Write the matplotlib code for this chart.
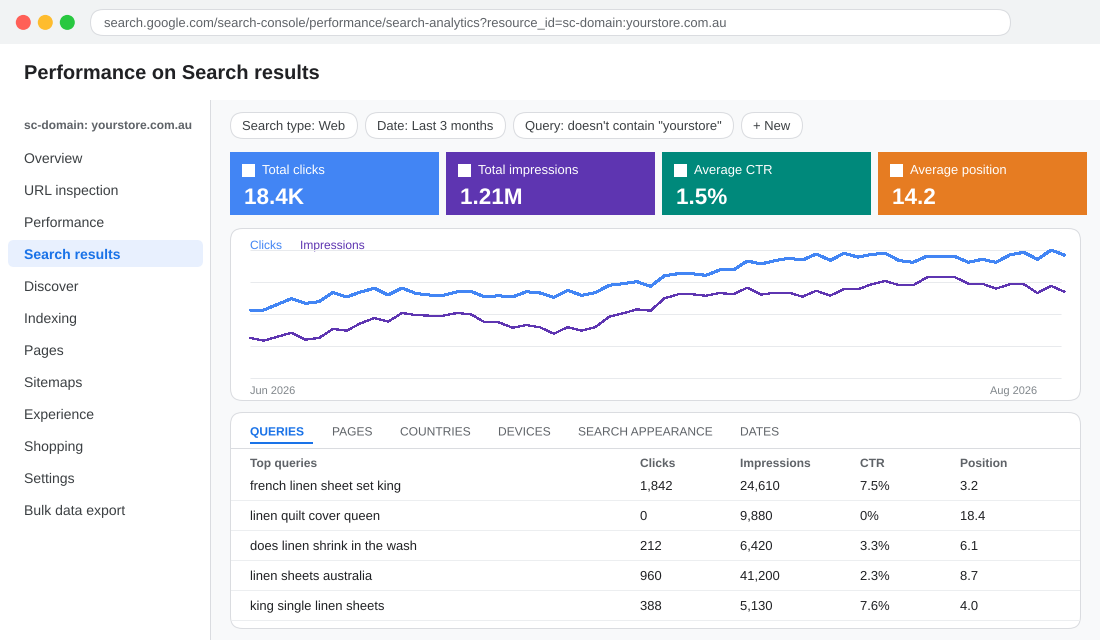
import matplotlib
matplotlib.use("Agg")
import matplotlib.pyplot as plt
import matplotlib.patheffects as pe
from matplotlib.patches import FancyBboxPatch, Rectangle, Circle

plt.rcParams['font.family'] = ['Liberation Sans', 'DejaVu Sans']
plt.rcParams['text.hinting'] = 'none'

URL = "search.google.com/search-console/performance/search-analytics?resource_id=sc-domain:yourstore.com.au"
TITLE = "Performance on Search results"
DOMAIN = "sc-domain: yourstore.com.au"
NAV = ["Overview", "URL inspection", "Performance", "Search results", "Discover", "Indexing",
       "Pages", "Sitemaps", "Experience", "Shopping", "Settings", "Bulk data export"]
FILTERS = ['Search type: Web', 'Date: Last 3 months', 'Query: doesn\'t contain "yourstore"', '+ New']
KPI_LABELS = ["Total clicks", "Total impressions", "Average CTR", "Average position"]
KPI_VALUES = ["18.4K", "1.21M", "1.5%", "14.2"]
KPI_COLORS = ["#4285f4", "#5e35b1", "#00897b", "#e67c22"]
TABS = ["QUERIES", "PAGES", "COUNTRIES", "DEVICES", "SEARCH APPEARANCE", "DATES"]
COLUMNS = ["Top queries", "Clicks", "Impressions", "CTR", "Position"]
QUERIES = ["french linen sheet set king", "linen quilt cover queen", "does linen shrink in the wash",
           "linen sheets australia", "king single linen sheets"]
CLICKS = ["1,842", "0", "212", "960", "388"]
IMPRESSIONS = ["24,610", "9,880", "6,420", "41,200", "5,130"]
CTR = ["7.5%", "0%", "3.3%", "2.3%", "7.6%"]
POSITION = ["3.2", "18.4", "6.1", "8.7", "4.0"]

clicks_series = [52.9, 53.1, 57.6, 62.0, 58.3, 59.6, 66.9, 63.3, 67.2, 70.1,
                 64.8, 70.3, 66.1, 64.8, 64.6, 67.4, 67.7, 63.3, 64.3, 63.3,
                 67.4, 66.4, 63.0, 68.5, 64.6, 66.7, 72.4, 73.7, 75.3, 71.6,
                 79.9, 81.5, 81.5, 80.2, 84.4, 84.4, 91.4, 89.1, 91.7, 93.5,
                 92.2, 96.9, 91.9, 97.4, 94.5, 96.6, 97.4, 91.7, 90.4, 95.1,
                 95.1, 95.1, 90.4, 92.7, 90.4, 96.1, 98.2, 92.7, 100.0, 95.8]
impressions_series = [31.3, 29.2, 32.3, 35.4, 29.9, 31.3, 38.3, 37.0, 42.7, 46.9,
                      44.0, 50.8, 49.2, 48.7, 48.7, 50.8, 49.7, 43.5, 43.5, 39.3,
                      41.4, 39.6, 34.6, 39.8, 37.0, 39.8, 47.9, 50.5, 53.6, 52.6,
                      62.2, 65.4, 65.4, 64.3, 66.4, 65.4, 70.6, 65.1, 66.7, 66.7,
                      63.5, 68.2, 64.3, 69.5, 69.3, 73.2, 75.8, 72.4, 72.4, 78.6,
                      78.9, 78.9, 73.7, 73.7, 69.8, 73.2, 73.4, 66.4, 71.9, 67.2]
y_ticks = [0, 25, 50, 75, 100]

W, H = 1100, 640
fig = plt.figure(figsize=(W / 100, H / 100), dpi=100, facecolor="white")
bg = fig.add_axes([0, 0, 1, 1])
bg.set_xlim(0, W); bg.set_ylim(H, 0); bg.axis("off")
PX = 0.72

def rect(x, y, w, h, fc, ec="none", lw=0, z=1):
    bg.add_patch(Rectangle((x, y), w, h, fc=fc, ec=ec, lw=lw, zorder=z))

def rrect(x, y, w, h, r, fc, ec="none", lw=0.72, z=1):
    bg.add_patch(FancyBboxPatch((x, y), w, h, boxstyle=f"round,pad=0,rounding_size={r}",
                                fc=fc, ec=ec, lw=lw, zorder=z, mutation_aspect=1))

def txt(x, y, s, size, color, weight="normal", ha="left"):
    t = bg.text(x, y, s, fontsize=size * PX, color=color, fontweight=weight, ha=ha, va="baseline", zorder=5)
    t.set_path_effects([pe.Normal()])

# browser bar
rect(0, 0, W, 44, "#f1f3f4")
for cx, c in zip([23, 45, 67], ["#ff5f57", "#febc2e", "#28c840"]):
    bg.add_patch(Circle((cx + 0.3, 22.4), 7.5, fc=c, ec="none", zorder=2))
rrect(90.5, 9.5, 920, 26, 13, "white", "#dadce0", z=2)
txt(104, 27, URL, 13, "#5f6368")
txt(24, 79, TITLE, 20, "#202124", "bold")

# content pane + sidebar
rect(211, 100, W - 211, H - 100, "#f8f9fa")
rect(210, 100, 1, H - 100, "#dadce0", z=2)
txt(24, 129, DOMAIN, 12, "#5f6368", "bold")
rrect(8, 240, 195, 27, 6, "#e8f0fe")
for i, n in enumerate(NAV):
    active = n == "Search results"
    txt(24, 163 + 32 * i, n, 14, "#1a73e8" if active else "#3c4043", "bold" if active else "normal")

# filters
fx = [230.5, 365.5, 513.5, 741.5]
fw = [127, 140, 220, 61]
for x, w, s in zip(fx, fw, FILTERS):
    rrect(x, 112.5, w, 26, 13, "white", "#dadce0", z=2)
    txt(x + 11.5, 130, s, 13, "#3c4043")

# KPI cards
for i, (lab, val, col) in enumerate(zip(KPI_LABELS, KPI_VALUES, KPI_COLORS)):
    x = 230 + 216 * i
    rect(x, 152, 209, 63, col)
    rect(x + 12, 164, 13, 13, "white", z=2)
    txt(x + 32, 174, lab, 13, "white")
    txt(x + 14, 204, val, 22.5, "white", "bold")

# chart card
rrect(230.5, 228.5, 850, 172, 12, "white", "#dadce0", z=1)
ax = fig.add_axes([250 / W, 1 - 378.0 / H, 815 / W, 128 / H], facecolor="none", zorder=3)
days = list(range(len(clicks_series)))
ax.hlines(y_ticks, 0, 58.7, color="#e8eaed", lw=0.72, zorder=1, clip_on=False)
ax.plot(days, clicks_series, color="#4285f4", lw=2.0 * PX, zorder=3, clip_on=False,
        antialiased=False, solid_capstyle="butt")
ax.plot(days, impressions_series, color="#5e35b1", lw=1.2 * PX, zorder=3, clip_on=False,
        antialiased=False, solid_capstyle="butt")
ax.set_xlim(0, 59); ax.set_ylim(0, 100)
ax.set_yticks(y_ticks); ax.set_xticks([])
ax.tick_params(left=False, labelleft=False)
for s in ax.spines.values():
    s.set_visible(False)
txt(250, 249, "Clicks", 12, "#4285f4")
txt(300, 249, "Impressions", 12, "#5e35b1")
txt(250, 394, "Jun 2026", 11, "#80868b")
txt(990, 394, "Aug 2026", 11, "#80868b")

# table card
rrect(230.5, 412.5, 850, 216, 12, "white", "#dadce0", z=1)
tab_x = [250, 332, 400, 498, 578, 740]
for x, t in zip(tab_x, TABS):
    on = t == "QUERIES"
    txt(x, 435.5, t, 12, "#1a73e8" if on else "#5f6368", "bold" if on else "normal")
rect(250, 442, 63, 2, "#1a73e8", z=2)
rect(231, 448, 849, 1, "#dadce0", z=2)
col_x = [250, 640, 740, 860, 960]
for x, c in zip(col_x, COLUMNS):
    txt(x, 467, c, 12, "#5f6368", "bold")
for i, row in enumerate(zip(QUERIES, CLICKS, IMPRESSIONS, CTR, POSITION)):
    y = 490 + 30 * i
    for x, v in zip(col_x, row):
        txt(x, y, v, 13, "#202124")
    rect(231, 500 + 30 * i, 849, 1, "#eceef0", z=2)

fig.savefig("out.png", dpi=100, facecolor="white")
